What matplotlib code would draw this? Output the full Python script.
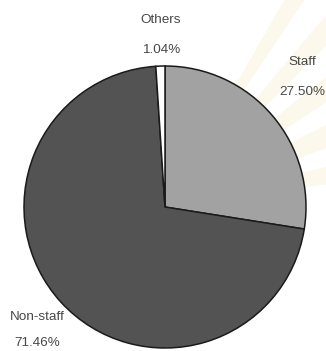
import matplotlib
matplotlib.use("Agg")
import matplotlib.pyplot as plt
from matplotlib.patches import Polygon
import numpy as np

labels = ["Staff", "Non-staff", "Others"]
shares = [27.50, 71.46, 1.04]
colors = ["#a2a2a2", "#535353", "#ffffff"]

W, H = 326, 351
fig = plt.figure(figsize=(W / 100, H / 100), dpi=100)
ax = fig.add_axes([0, 0, 1, 1])

cx, cy, rad = 165, H - 207, 141
wedges, _ = ax.pie(shares, colors=colors, startangle=90, counterclock=False,
                   center=(cx, cy), radius=rad,
                   wedgeprops=dict(edgecolor="#1a1a1a", linewidth=1.1))
for w in wedges:
    w.set_zorder(2)

# pie() resets the limits, so set the pixel frame afterwards
ax.set_xlim(0, W)
ax.set_ylim(0, H)
ax.set_aspect("equal")
ax.axis("off")

# faint light rays fanning out behind the chart
for a0, a1 in [(8, 14), (20, 27), (33, 39), (45, 50), (56, 60)]:
    r = 500
    p0 = (cx + r * np.cos(np.radians(a0)), cy + r * np.sin(np.radians(a0)))
    p1 = (cx + r * np.cos(np.radians(a1)), cy + r * np.sin(np.radians(a1)))
    ax.add_patch(Polygon([(cx, cy), p0, p1], closed=True, color="#fcf8ec", lw=0, zorder=0))

# labels sit outside the pie, name above the percentage
font = dict(family="Liberation Sans", fontsize=9.7, color="#484848", ha="center", va="center", zorder=3)
label_pos = {"Others": (161, 20), "Staff": (302, 62), "Non-staff": (37, 317)}
pct_pos = {"Others": (161, 50), "Staff": (302, 92), "Non-staff": (37, 343)}
for name, val in zip(labels, shares):
    x, y = label_pos[name]
    ax.text(x, H - y, name, **font)
    x, y = pct_pos[name]
    ax.text(x, H - y, f"{val:.2f}%", **font)

fig.savefig("out.png", dpi=100)
